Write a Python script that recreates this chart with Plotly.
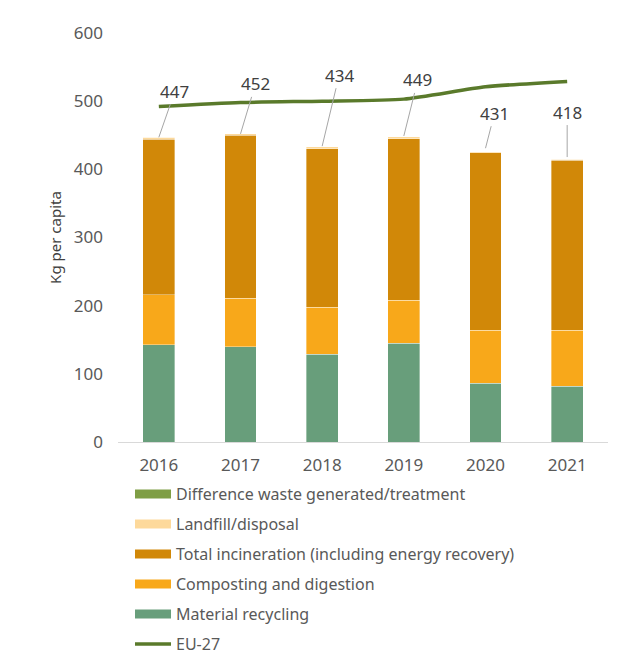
import plotly.graph_objects as go

years = ["2016", "2017", "2018", "2019", "2020", "2021"]
material_recycling = [143, 140, 129, 145, 86, 82]
composting = [73, 71, 69, 63, 78, 82]
incineration = [228, 239, 232, 237, 260, 249]
landfill = [3, 2, 3, 3, 2, 2]
difference = [0, 0, 0, 0, 0, 0]
totals = [447, 452, 434, 449, 431, 418]
eu27 = [492, 498, 500, 503, 521, 529]

label_dx = [16, 15, 17, 14, 9, 0]
label_dy = [-46, -50, -71, -56, -35, -45]

FONT = "Noto Sans"
GREY = "#595959"

series = [
    ("Material recycling", material_recycling, "#689E7B"),
    ("Composting and digestion", composting, "#F8A81A"),
    ("Total incineration (including energy recovery)", incineration, "#D18808"),
    ("Landfill/disposal", landfill, "#FDD99B"),
    ("Difference waste generated/treatment", difference, "#7F9E45"),
]
legend_rank = {
    "Difference waste generated/treatment": 1,
    "Landfill/disposal": 2,
    "Total incineration (including energy recovery)": 3,
    "Composting and digestion": 4,
    "Material recycling": 5,
}

fig = go.Figure()
for name, vals, col in series:
    fig.add_trace(go.Bar(
        x=years, y=vals, name=name,
        marker=dict(color=col, line=dict(color="rgba(255,255,255,0.6)", width=0.6)),
        showlegend=False, hoverinfo="y+name"))

for name, vals, col in series:
    # legend proxy (wide rectangular swatch)
    fig.add_trace(go.Scatter(
        x=[years[0]], y=[None], mode="lines", name=name, line=dict(color=col, width=9),
        legendrank=legend_rank[name], legendgroup=name, showlegend=True, hoverinfo="skip"))

fig.add_trace(go.Scatter(
    x=years, y=eu27, name="EU-27", mode="lines",
    line=dict(color="#5A7A2B", width=3.5, shape="spline", smoothing=0.6),
    legendrank=6, legendgroup="EU-27"))

for i, (tot, dx, dy) in enumerate(zip(totals, label_dx, label_dy)):
    fig.add_annotation(
        x=i, y=tot, text=str(tot), showarrow=True, arrowhead=0, arrowwidth=1,
        arrowcolor="#A6A6A6", ax=dx, ay=dy, standoff=0,
        font=dict(family=FONT, size=17, color="#404040"))

fig.update_layout(
    barmode="stack",
    bargap=0.61,
    width=627, height=653,
    margin=dict(l=110, r=27, t=25, b=219, autoexpand=False),
    plot_bgcolor="white", paper_bgcolor="white",
    font=dict(family=FONT, color=GREY),
    showlegend=True,
    legend=dict(
        x=0.0245, y=-0.0856, xanchor="left", yanchor="top",
        traceorder="grouped", tracegroupgap=6.2, itemwidth=36,
        font=dict(family=FONT, size=16, color=GREY),
        bgcolor="rgba(0,0,0,0)"),
    xaxis=dict(
        type="category", categoryorder="array", categoryarray=years,
        range=[-0.5, len(years) - 0.5], autorange=False,
        showgrid=False, showline=True, linecolor="#D9D9D9", linewidth=1,
        ticks="", ticklabelstandoff=8, tickfont=dict(family=FONT, size=17, color=GREY)),
    yaxis=dict(
        range=[0, 600], dtick=100, showgrid=False, showline=False, zeroline=False,
        ticks="", ticklabelstandoff=14, tickfont=dict(family=FONT, size=17, color=GREY),
        title=dict(text="Kg per capita", font=dict(family=FONT, size=15, color="#404040"), standoff=8)),
)

fig.write_html("out.html")
